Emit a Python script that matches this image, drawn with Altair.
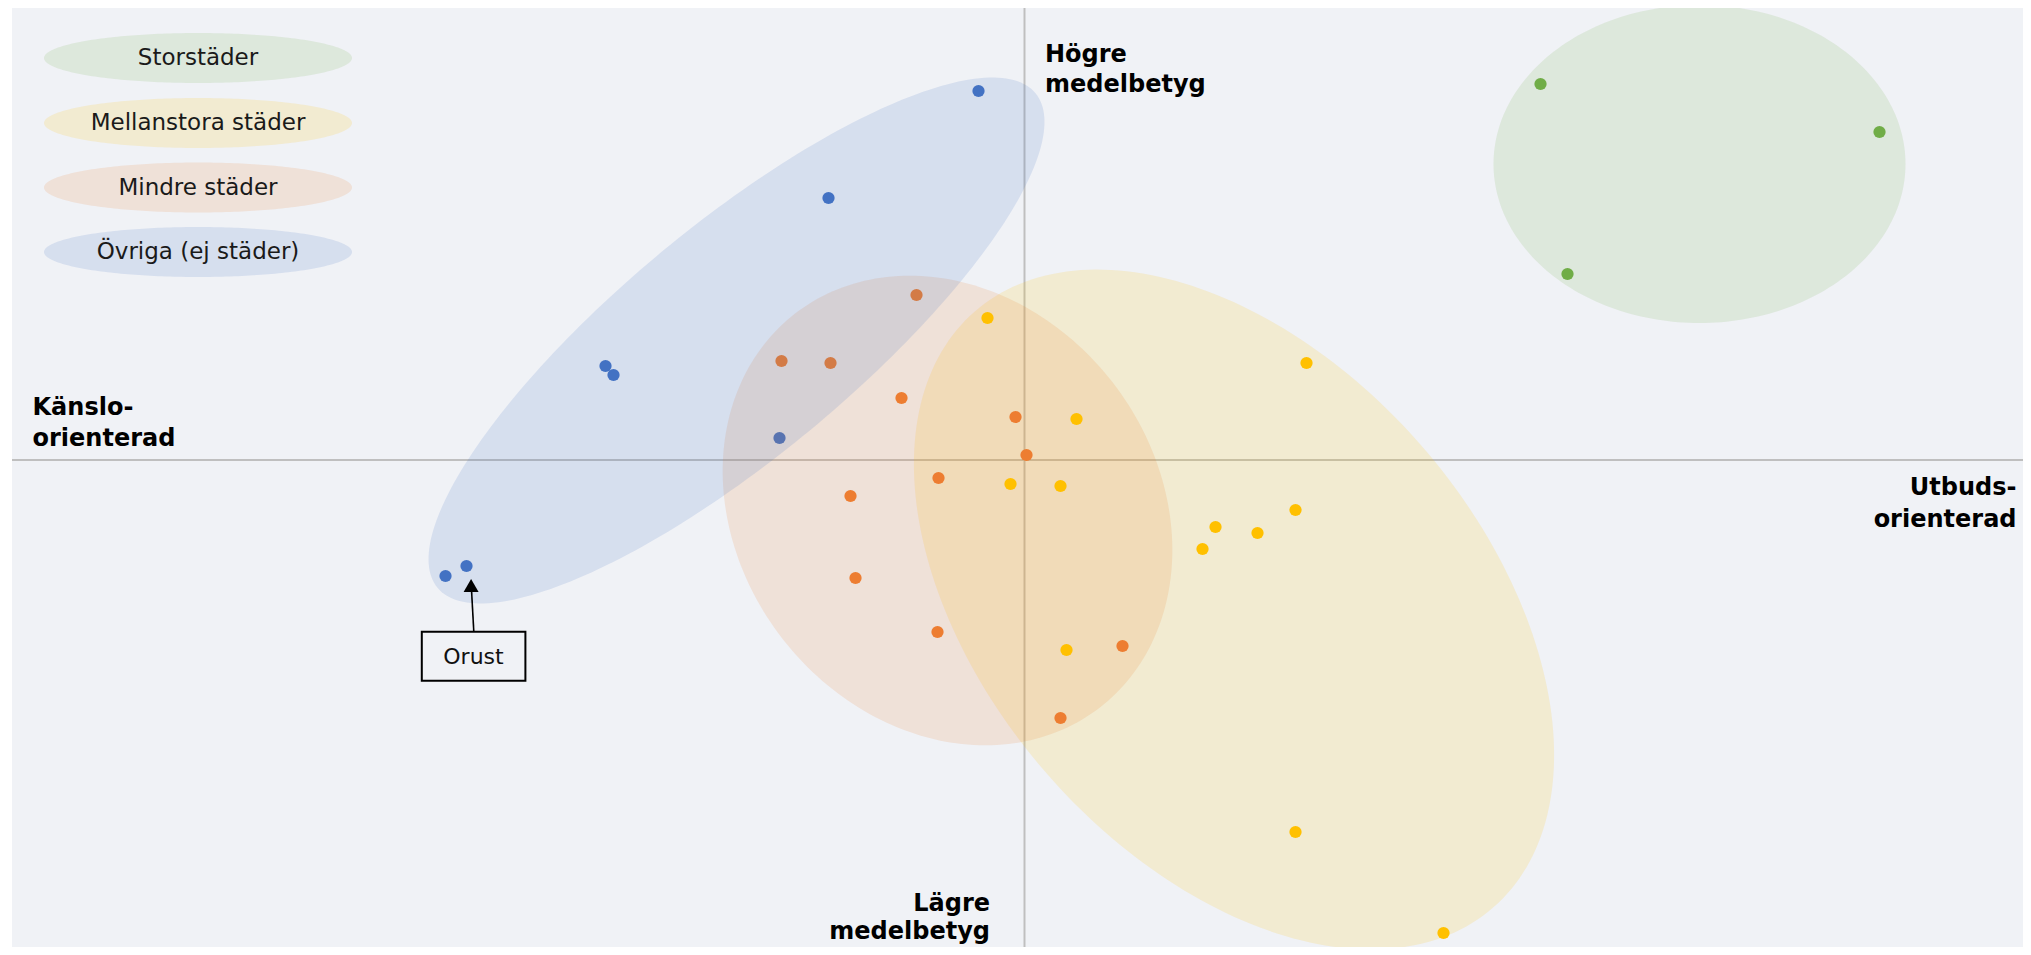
import altair as alt
import numpy as np
import pandas as pd

# ---------------- data (map coordinates, origin at the axis cross) ----------------
GROUPS = ["Storstäder", "Mellanstora städer", "Mindre städer", "Övriga (ej städer)"]
COLORS = ["#70AD47", "#FFC000", "#ED7D31", "#4472C4"]

stor_x = [5.16, 8.55, 5.43]
stor_y = [3.76, 3.28, 1.86]

mellan_x = [-0.37, 0.52, -0.14, 0.36, 2.82, 2.71, 1.91, 2.33, 1.78, 0.42, 2.71, 4.19]
mellan_y = [1.42, 0.41, -0.24, -0.26, 0.97, -0.50, -0.67, -0.73, -0.89, -1.90, -3.72, -4.73]

mindre_x = [-1.08, -2.43, -1.94, -1.23, -0.09, 0.02, -0.86, -1.74, -1.69, -0.87, 0.98, 0.36]
mindre_y = [1.65, 0.99, 0.97, 0.62, 0.43, 0.05, -0.18, -0.36, -1.18, -1.72, -1.86, -2.58]

ovriga_x = [-0.46, -1.96, -4.19, -4.11, -2.45, -5.58, -5.79]
ovriga_y = [3.69, 2.62, 0.94, 0.85, 0.22, -1.06, -1.16]
ovriga_namn = ["", "", "", "", "", "Orust", ""]

# group ellipses: centre, semi-axes, rotation (degrees)
ell_cx = [6.75, 2.095, -0.77, -2.88]
ell_cy = [2.96, -1.495, -0.505, 1.195]
ell_a = [2.06, 3.95, 2.49, 3.88]
ell_b = [1.59, 2.49, 2.09, 1.16]
ell_rot = [0.0, -49.0, -52.25, 39.6]

# ---------------- helpers ----------------
XSCALE = alt.Scale(domain=[-10.125, 9.985], nice=False, zero=False)
YSCALE = alt.Scale(domain=[-4.87, 4.52], nice=False, zero=False)


def X(f="x"):
    return alt.X(f, type="quantitative", scale=XSCALE, axis=None)


def Y(f="y"):
    return alt.Y(f, type="quantitative", scale=YSCALE, axis=None)


def ellipse_df(cx, cy, a, b, rot, n=240):
    t = np.linspace(0, 2 * np.pi, n, endpoint=False)
    r = np.deg2rad(rot)
    x = cx + a * np.cos(t) * np.cos(r) - b * np.sin(t) * np.sin(r)
    y = cy + a * np.cos(t) * np.sin(r) + b * np.sin(t) * np.cos(r)
    return pd.DataFrame({"x": x, "y": y, "i": np.arange(n)})


def ellipse_layer(cx, cy, a, b, rot, color):
    return alt.Chart(ellipse_df(cx, cy, a, b, rot)).mark_line(
        interpolate="linear-closed", fill=color, fillOpacity=0.15,
        strokeOpacity=0, clip=True
    ).encode(x=X(), y=Y(), order="i:Q")


def group_ellipse(k):
    return ellipse_layer(ell_cx[k], ell_cy[k], ell_a[k], ell_b[k], ell_rot[k], COLORS[k])


def points_layer(k, xs, ys):
    df = pd.DataFrame({"x": xs, "y": ys, "Grupp": GROUPS[k]})
    return alt.Chart(df).mark_circle(size=150, opacity=1, color=COLORS[k]).encode(
        x=X(), y=Y(), tooltip=["Grupp:N"]
    )


def text_layer(x, y, txt, align, lh, size=24, weight="bold", baseline="alphabetic", color="#000000"):
    df = pd.DataFrame({"x": [x], "y": [y], "t": [txt]})
    return alt.Chart(df).mark_text(
        align=align, baseline=baseline, font="DejaVu Sans", fontWeight=weight,
        fontSize=size, lineBreak="\n", lineHeight=lh, color=color
    ).encode(x=X(), y=Y(), text="t:N")


# ---------------- layers ----------------
vline = alt.Chart(pd.DataFrame({"x": [0.0]})).mark_rule(color="#BFBFBF", strokeWidth=2).encode(x=X())
hline = alt.Chart(pd.DataFrame({"y": [0.0]})).mark_rule(color="#BFBFBF", strokeWidth=2).encode(y=Y())

layers = [
    vline, hline,
    group_ellipse(0), group_ellipse(1),
    points_layer(3, ovriga_x, ovriga_y),
    group_ellipse(2),
    points_layer(2, mindre_x, mindre_y),
    points_layer(1, mellan_x, mellan_y),
    points_layer(0, stor_x, stor_y),
    group_ellipse(3),
]

# axis-end labels
layers += [
    text_layer(0.205, 3.983, "Högre\nmedelbetyg", "left", 30),
    text_layer(-9.92, 0.45, "Känslo-\norienterad", "left", 31),
    text_layer(9.92, -0.35, "Utbuds-\norienterad", "right", 32),
    text_layer(-0.345, -4.51, "Lägre\nmedelbetyg", "right", 28),
]

# Orust annotation anchored to its data point
orust = pd.DataFrame({"x": ovriga_x, "y": ovriga_y, "namn": ovriga_namn})
orust = orust[orust["namn"] != ""]
layers += [
    alt.Chart(orust).mark_rule(color="black", strokeWidth=1.6, xOffset=7.3, yOffset=65.7,
                               x2Offset=4.8, y2Offset=20).encode(
        x=X(), y=Y(), x2=alt.X2("x"), y2=alt.Y2("y")),
    alt.Chart(orust).mark_point(shape="triangle-up", filled=True, size=225, color="black",
                                opacity=1, xOffset=4.6, yOffset=19.5).encode(x=X(), y=Y()),
    alt.Chart(orust).mark_rect(fillOpacity=0, stroke="black", strokeWidth=2,
                               xOffset=-44.7, x2Offset=58.9, yOffset=65.7, y2Offset=114.7).encode(
        x=X(), y=Y(), x2=alt.X2("x"), y2=alt.Y2("y")),
    alt.Chart(orust).mark_text(font="DejaVu Sans", fontSize=22, color="#111111",
                               dx=7, dy=90.5, baseline="middle", align="center").encode(
        x=X(), y=Y(), text="namn:N"),
]

# legend (ellipses with centred labels) in the upper-left corner
LEG_X = -8.265
LEG_Y = [4.02, 3.37, 2.725, 2.08]
for k in range(4):
    layers.append(ellipse_layer(LEG_X, LEG_Y[k], 1.54, 0.25, 0.0, COLORS[k]))
    layers.append(text_layer(LEG_X, LEG_Y[k], GROUPS[k], "center", 22, size=23,
                             weight="normal", baseline="middle", color="#1a1a1a"))

chart = alt.layer(*layers).properties(
    width=2011, height=939,
    padding={"left": 4, "top": 0, "right": 0, "bottom": 0},
    autosize=alt.AutoSizeParams(type="none"),
    background="white",
).configure_view(fill="#F0F2F6", strokeWidth=0)

chart.save("out.html", embed_options={"renderer": "svg", "actions": False})
